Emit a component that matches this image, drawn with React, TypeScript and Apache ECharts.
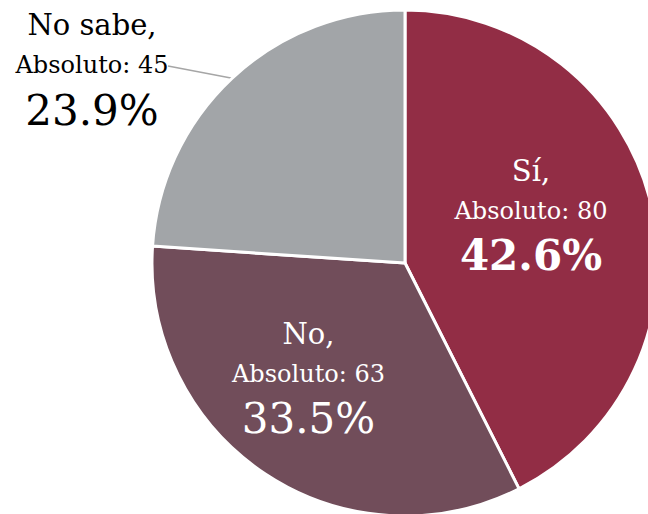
import React, { useEffect, useRef } from "react";
import * as echarts from "echarts";

const categories = ["Sí", "No", "No sabe"];
const absoluteValues = [80, 63, 45];
const sliceColors = ["#922D45", "#714D5A", "#A2A5A8"];

export default function App() {
  const ref = useRef<HTMLDivElement>(null);
  useEffect(() => {
    if (!ref.current) return;
    const chart = echarts.init(ref.current, null, { renderer: "svg" });
    const font = "DejaVu Serif";
    const richBase = (color: string, boldPct: boolean) => ({
      name: { fontFamily: font, fontSize: 29, lineHeight: 38, color },
      abs: { fontFamily: font, fontSize: 24, lineHeight: 42, color },
      pct: {
        fontFamily: font,
        fontSize: boldPct ? 42 : 42,
        fontWeight: boldPct ? "bold" : "normal",
        lineHeight: 48,
        color,
      },
    });
    const data = categories.map((name, i) => {
      const item: any = {
        name,
        value: absoluteValues[i],
        itemStyle: { color: sliceColors[i] },
      };
      if (i === 0) {
        item.label = {
          position: "inside",
          padding: [0, 0, 34, 0],
          rich: richBase("#ffffff", true),
        };
      } else if (i === 1) {
        item.label = {
          position: "inside",
          padding: [16, 50, 0, 0],
          rich: richBase("#ffffff", false),
        };
      } else {
        item.label = {
          position: "outside",
          rich: richBase("#000000", false),
        };
        item.labelLine = {
          show: true,
          lineStyle: { color: "#A6A6A6", width: 1.5 },
        };
      }
      return item;
    });
    chart.setOption({
      animation: false,
      backgroundColor: "#ffffff",
      series: [
        {
          type: "pie",
          center: [405, 263],
          radius: 253,
          startAngle: 90,
          clockwise: true,
          percentPrecision: 1,
          avoidLabelOverlap: false,
          itemStyle: { borderColor: "#ffffff", borderWidth: 3 },
          label: {
            show: true,
            formatter: "{name|{b},}\n{abs|Absoluto: {c}}\n{pct|{d}%}",
            align: "center",
          },
          labelLine: { show: false },
          labelLayout: (params: any) => {
            if (params.dataIndex !== 2) return {};
            const pts = params.labelLinePoints;
            const start = pts && pts[0] ? pts[0] : [232, 78];
            return {
              x: 92,
              y: 70,
              align: "center",
              verticalAlign: "middle",
              labelLinePoints: [start, [168, 66]],
            };
          },
          data,
        },
      ],
    });
    return () => chart.dispose();
  }, []);
  return (
    <div
      ref={ref}
      style={{ position: "fixed", left: 0, top: 0, width: 648, height: 514 }}
    />
  );
}
